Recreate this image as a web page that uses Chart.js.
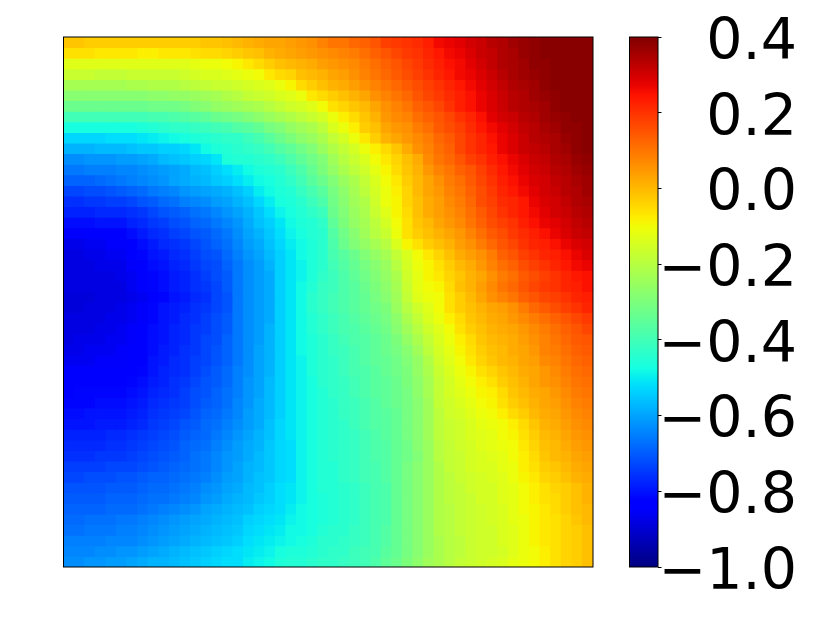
<!DOCTYPE html>
<html>
<head>
<meta charset="utf-8">
<style>
  html, body { margin: 0; padding: 0; background: #fff; }
  canvas { position: absolute; left: 0; top: 0; }
</style>
<script src="https://cdn.jsdelivr.net/npm/chart.js@4"></script>
</head>
<body>
<canvas id="heat" width="822" height="617"></canvas>
<canvas id="bar" width="822" height="617"></canvas>
<script>
// values, in hundredths, top row first
const heatRows = [
[-2,-2,-3,-3,-3,-3,-3,-3,-3,-3,-3,-3,-3,-2,-2,-1,0,1,2,3,3,4,5,6,8,10,10,12,13,15,18,19,20,21,23,26,27,28,30,31,33,34,36,37,38,39,39,39,39,39],
[-6,-6,-6,-7,-7,-7,-7,-8,-8,-7,-7,-7,-6,-5,-5,-4,-3,-2,-1,1,2,3,4,5,6,7,8,9,11,13,15,17,19,20,22,24,26,27,29,31,32,34,35,37,38,39,39,39,39,39],
[-13,-13,-13,-13,-13,-13,-13,-13,-13,-13,-13,-13,-12,-11,-11,-10,-9,-7,-5,-3,-1,0,1,2,4,5,6,7,9,11,13,15,17,19,21,23,25,26,28,30,32,34,35,36,38,38,39,39,39,39],
[-17,-17,-17,-18,-18,-18,-17,-17,-17,-17,-17,-16,-15,-14,-14,-13,-12,-11,-10,-7,-5,-4,-1,0,1,3,4,6,8,10,12,14,16,18,20,22,24,26,27,29,31,33,35,36,37,38,39,39,39,39],
[-23,-23,-23,-23,-23,-23,-22,-22,-21,-21,-21,-20,-19,-18,-17,-17,-16,-15,-14,-13,-11,-9,-5,-3,-1,1,2,4,6,8,10,12,14,16,18,20,22,24,26,28,30,32,34,35,36,38,39,39,39,39],
[-28,-28,-28,-28,-28,-28,-28,-28,-27,-27,-26,-26,-25,-24,-23,-21,-20,-18,-17,-16,-14,-13,-11,-7,-5,-3,-1,1,3,6,8,10,12,15,17,19,21,23,25,27,29,31,33,34,36,37,38,39,39,39],
[-33,-33,-33,-33,-33,-33,-33,-33,-32,-32,-32,-31,-29,-28,-26,-25,-24,-23,-22,-20,-18,-16,-15,-13,-10,-6,-4,-2,0,3,6,8,10,13,15,17,20,23,25,27,29,31,33,34,35,36,38,39,39,39],
[-40,-40,-40,-40,-40,-40,-40,-40,-39,-39,-38,-37,-36,-35,-33,-32,-31,-29,-27,-25,-23,-21,-19,-17,-15,-11,-8,-5,-2,1,5,7,8,11,13,15,17,20,22,25,28,30,31,33,34,36,37,38,39,39],
[-47,-47,-47,-47,-47,-47,-47,-46,-45,-44,-43,-43,-42,-41,-40,-39,-37,-36,-34,-31,-29,-26,-24,-22,-19,-14,-11,-8,-3,-1,3,5,6,9,11,14,16,18,21,24,26,28,30,32,33,35,36,38,38,39],
[-53,-53,-53,-53,-52,-52,-52,-51,-50,-49,-48,-47,-46,-45,-44,-43,-43,-41,-39,-36,-33,-30,-27,-25,-22,-18,-15,-11,-7,-3,1,3,5,7,9,12,14,17,20,22,25,27,29,31,33,34,35,37,38,39],
[-58,-58,-58,-57,-57,-57,-56,-55,-55,-54,-54,-53,-51,-48,-46,-45,-44,-43,-42,-40,-37,-35,-32,-29,-25,-21,-18,-15,-11,-8,-5,-2,2,6,8,11,13,17,20,22,24,27,29,31,32,33,35,36,38,39],
[-63,-63,-62,-62,-62,-61,-61,-60,-59,-57,-56,-55,-54,-53,-51,-46,-45,-45,-44,-43,-41,-38,-35,-32,-29,-24,-20,-17,-14,-10,-7,-4,-1,2,7,10,12,15,18,20,23,25,27,29,31,32,34,35,37,38],
[-66,-66,-65,-65,-65,-64,-64,-63,-62,-61,-60,-59,-57,-56,-54,-52,-50,-48,-46,-45,-44,-41,-38,-34,-30,-26,-22,-19,-16,-12,-9,-5,-2,1,5,8,10,13,15,18,21,24,26,28,30,31,33,34,36,37],
[-69,-69,-69,-68,-67,-66,-65,-64,-63,-62,-60,-59,-58,-57,-55,-54,-52,-50,-48,-47,-45,-43,-40,-36,-33,-29,-25,-22,-18,-14,-10,-7,-3,0,3,6,9,11,14,17,20,23,25,27,29,30,32,33,35,36],
[-73,-73,-72,-72,-71,-70,-69,-68,-66,-65,-64,-62,-61,-60,-59,-58,-56,-54,-50,-48,-46,-45,-42,-39,-36,-31,-27,-23,-19,-15,-11,-8,-4,0,3,5,8,10,13,16,19,22,24,26,28,30,31,33,34,36],
[-76,-76,-75,-75,-74,-74,-73,-71,-70,-68,-67,-65,-64,-63,-61,-60,-58,-56,-53,-50,-47,-46,-44,-41,-38,-32,-28,-24,-21,-16,-11,-9,-4,-1,2,4,7,9,12,16,18,21,22,24,27,29,30,32,34,35],
[-78,-78,-78,-77,-77,-77,-76,-75,-73,-71,-70,-69,-67,-66,-64,-62,-60,-58,-55,-52,-49,-47,-45,-43,-41,-33,-29,-25,-22,-17,-13,-9,-5,-1,2,4,6,8,11,14,17,20,22,24,26,28,30,31,33,34],
[-81,-81,-81,-80,-80,-80,-78,-77,-75,-74,-72,-71,-69,-68,-66,-64,-62,-59,-56,-54,-51,-48,-46,-45,-43,-35,-30,-26,-23,-19,-15,-10,-6,-2,0,3,5,7,10,13,16,18,20,23,25,27,28,30,32,33],
[-85,-85,-84,-84,-83,-83,-81,-79,-77,-76,-74,-73,-71,-70,-68,-66,-63,-60,-58,-55,-52,-49,-47,-45,-44,-37,-32,-28,-24,-20,-17,-11,-6,-3,-1,1,3,5,8,11,14,16,19,21,23,25,27,29,31,32],
[-87,-87,-86,-86,-85,-85,-83,-81,-79,-77,-76,-75,-73,-71,-69,-67,-64,-61,-59,-56,-53,-50,-48,-46,-44,-38,-33,-29,-26,-23,-20,-14,-9,-6,-3,-1,1,4,6,9,12,15,17,20,22,23,25,27,29,30],
[-88,-88,-87,-87,-86,-86,-84,-82,-80,-79,-77,-76,-74,-72,-71,-68,-65,-62,-60,-57,-54,-51,-48,-46,-44,-39,-36,-33,-29,-26,-23,-18,-14,-10,-7,-4,-1,2,4,6,9,13,15,18,20,22,23,25,27,29],
[-88,-88,-88,-87,-87,-87,-85,-83,-81,-80,-78,-77,-75,-73,-72,-69,-66,-63,-61,-58,-54,-51,-49,-46,-44,-40,-37,-34,-31,-28,-25,-20,-15,-11,-9,-6,-3,0,2,5,8,11,13,16,18,20,22,24,26,27],
[-88,-88,-88,-88,-88,-87,-86,-84,-82,-81,-79,-78,-76,-74,-72,-70,-66,-63,-61,-59,-54,-51,-49,-46,-43,-41,-38,-35,-32,-29,-26,-22,-16,-12,-9,-7,-4,-2,1,3,6,9,11,14,16,18,20,22,24,25],
[-88,-88,-88,-88,-88,-88,-86,-83,-82,-81,-79,-78,-76,-75,-73,-70,-66,-63,-61,-59,-54,-51,-48,-45,-42,-41,-38,-36,-33,-30,-27,-23,-17,-12,-10,-9,-5,-1,1,4,7,10,12,15,17,19,20,22,23,25],
[-89,-89,-89,-88,-88,-88,-87,-86,-84,-82,-80,-79,-77,-76,-73,-71,-66,-63,-61,-59,-54,-51,-48,-44,-42,-40,-38,-36,-34,-31,-28,-24,-18,-13,-11,-10,-6,-3,0,3,6,8,10,13,15,17,18,20,22,23],
[-89,-89,-88,-88,-88,-87,-86,-85,-82,-80,-79,-78,-76,-75,-73,-71,-66,-63,-61,-59,-54,-51,-48,-44,-42,-40,-38,-36,-34,-32,-30,-25,-20,-16,-13,-10,-6,-3,-1,1,3,4,6,9,12,14,16,18,20,22],
[-88,-88,-88,-88,-87,-87,-86,-85,-82,-80,-79,-77,-76,-74,-72,-70,-66,-63,-61,-59,-54,-51,-48,-45,-43,-41,-39,-37,-35,-33,-31,-27,-22,-18,-14,-11,-8,-5,-2,0,2,3,5,7,9,11,13,15,17,19],
[-88,-88,-88,-87,-87,-86,-85,-84,-81,-80,-78,-77,-75,-74,-72,-70,-66,-63,-61,-58,-54,-51,-48,-45,-43,-41,-39,-38,-36,-34,-32,-28,-24,-20,-16,-13,-10,-6,-3,-1,1,2,3,5,7,9,11,13,15,17],
[-88,-87,-87,-87,-86,-86,-85,-84,-81,-80,-78,-77,-75,-73,-72,-69,-66,-63,-61,-58,-54,-51,-48,-46,-44,-42,-40,-38,-37,-35,-33,-30,-26,-22,-18,-14,-11,-8,-5,-2,0,1,2,4,6,8,10,12,14,15],
[-87,-87,-86,-86,-86,-85,-84,-83,-81,-79,-78,-76,-75,-73,-71,-69,-66,-63,-60,-58,-54,-51,-48,-46,-44,-42,-41,-39,-37,-35,-33,-31,-28,-24,-19,-15,-12,-9,-6,-3,-1,0,2,3,5,8,9,11,13,14],
[-86,-86,-86,-85,-85,-85,-84,-83,-80,-79,-77,-76,-74,-73,-71,-69,-66,-63,-60,-58,-54,-51,-49,-46,-44,-43,-41,-39,-37,-35,-34,-32,-29,-26,-21,-16,-13,-10,-7,-4,-2,0,1,3,4,7,8,10,12,13],
[-84,-84,-84,-84,-84,-84,-83,-82,-80,-78,-77,-76,-74,-72,-70,-68,-65,-63,-60,-58,-54,-51,-49,-46,-44,-43,-41,-39,-38,-36,-34,-32,-30,-26,-22,-17,-14,-11,-9,-6,-4,-2,0,2,3,5,7,9,11,12],
[-83,-83,-83,-83,-83,-83,-82,-81,-79,-78,-76,-75,-73,-71,-70,-68,-65,-62,-60,-57,-54,-51,-49,-47,-44,-43,-42,-40,-38,-36,-35,-33,-30,-27,-23,-18,-15,-12,-10,-8,-6,-3,-1,1,3,5,6,8,10,11],
[-83,-82,-82,-82,-82,-82,-81,-80,-78,-77,-76,-74,-72,-71,-69,-67,-65,-62,-60,-57,-54,-51,-49,-47,-45,-43,-42,-40,-38,-36,-35,-33,-31,-27,-23,-18,-15,-13,-11,-9,-8,-5,-2,0,2,3,5,7,9,10],
[-82,-82,-82,-81,-81,-81,-80,-79,-77,-76,-75,-74,-72,-70,-69,-67,-64,-62,-59,-57,-54,-51,-49,-47,-45,-44,-42,-41,-39,-37,-35,-33,-31,-28,-24,-18,-16,-14,-12,-10,-9,-6,-3,-1,1,3,4,6,8,9],
[-81,-81,-80,-80,-80,-80,-79,-78,-76,-75,-74,-73,-71,-69,-68,-66,-64,-61,-59,-57,-54,-51,-49,-47,-45,-44,-42,-41,-39,-37,-36,-34,-31,-28,-24,-19,-16,-15,-13,-11,-10,-8,-5,-3,0,2,3,5,7,8],
[-80,-80,-80,-79,-79,-79,-78,-77,-75,-74,-73,-71,-70,-68,-67,-65,-63,-61,-59,-56,-53,-51,-49,-47,-45,-44,-43,-41,-39,-37,-36,-34,-31,-28,-24,-19,-17,-16,-14,-12,-11,-10,-8,-5,-2,1,2,4,6,7],
[-78,-78,-78,-78,-77,-77,-76,-75,-74,-73,-72,-70,-69,-68,-66,-64,-62,-60,-58,-56,-53,-51,-49,-47,-45,-44,-43,-42,-40,-38,-36,-34,-31,-28,-24,-19,-17,-16,-14,-13,-12,-10,-9,-6,-3,0,1,3,5,6],
[-77,-77,-77,-77,-76,-76,-75,-74,-73,-72,-71,-69,-68,-67,-65,-63,-61,-59,-58,-55,-53,-52,-49,-47,-45,-44,-43,-42,-40,-38,-37,-34,-32,-28,-25,-20,-18,-16,-15,-13,-12,-11,-10,-7,-4,-1,0,2,4,5],
[-76,-76,-76,-75,-75,-75,-74,-73,-72,-71,-70,-69,-67,-66,-64,-62,-61,-59,-57,-55,-53,-52,-49,-47,-45,-44,-43,-42,-40,-38,-37,-34,-32,-29,-25,-20,-18,-17,-15,-14,-13,-12,-10,-8,-5,-2,0,1,3,4],
[-74,-74,-74,-74,-73,-73,-73,-72,-71,-70,-69,-68,-67,-66,-64,-62,-60,-58,-57,-55,-53,-52,-49,-47,-45,-45,-43,-42,-40,-39,-37,-34,-31,-28,-25,-21,-18,-17,-15,-14,-14,-12,-11,-8,-6,-3,-2,0,2,3],
[-73,-73,-72,-72,-72,-71,-71,-70,-69,-69,-68,-67,-66,-65,-63,-61,-60,-58,-56,-55,-53,-52,-49,-47,-45,-45,-43,-42,-40,-39,-37,-34,-31,-28,-25,-21,-19,-17,-16,-15,-14,-13,-11,-9,-7,-4,-3,-1,1,2],
[-71,-71,-71,-71,-70,-70,-70,-69,-68,-68,-67,-66,-65,-63,-62,-60,-59,-57,-56,-54,-52,-51,-49,-47,-45,-45,-44,-43,-41,-39,-38,-34,-31,-28,-25,-21,-19,-18,-16,-15,-15,-13,-12,-10,-8,-6,-4,-3,-1,1],
[-70,-70,-70,-70,-69,-69,-69,-68,-67,-67,-66,-65,-64,-62,-61,-59,-58,-57,-55,-54,-52,-51,-49,-47,-46,-45,-44,-43,-41,-39,-38,-34,-31,-28,-25,-21,-19,-18,-17,-15,-15,-13,-12,-10,-8,-6,-5,-3,-1,1],
[-69,-69,-69,-69,-68,-68,-68,-67,-66,-65,-64,-63,-62,-60,-59,-58,-57,-56,-54,-53,-52,-50,-48,-47,-46,-45,-44,-43,-41,-39,-38,-34,-31,-28,-25,-21,-20,-18,-17,-16,-15,-14,-12,-10,-9,-7,-5,-3,-1,0],
[-68,-68,-67,-67,-67,-66,-66,-65,-64,-63,-62,-61,-60,-59,-58,-57,-56,-54,-53,-52,-51,-49,-48,-47,-46,-45,-44,-43,-41,-39,-38,-34,-31,-28,-25,-21,-20,-18,-17,-16,-15,-14,-12,-11,-9,-7,-6,-4,-2,0],
[-67,-67,-66,-66,-66,-65,-65,-64,-63,-62,-61,-60,-59,-58,-57,-56,-55,-53,-52,-51,-50,-48,-48,-47,-45,-44,-44,-42,-41,-39,-37,-34,-31,-28,-25,-21,-20,-18,-17,-16,-16,-14,-13,-11,-9,-7,-6,-4,-3,-1],
[-65,-65,-65,-65,-64,-64,-64,-63,-62,-61,-60,-59,-58,-57,-56,-55,-54,-52,-51,-50,-49,-48,-47,-46,-44,-44,-43,-42,-41,-39,-37,-34,-31,-28,-25,-22,-20,-19,-17,-16,-16,-14,-13,-11,-9,-7,-6,-4,-3,-1],
[-64,-64,-64,-63,-63,-62,-62,-61,-60,-59,-58,-57,-56,-55,-54,-53,-52,-51,-50,-49,-47,-46,-46,-45,-44,-43,-43,-41,-40,-39,-36,-34,-31,-28,-25,-22,-20,-19,-17,-16,-16,-15,-13,-11,-10,-8,-6,-4,-3,-1],
[-63,-63,-62,-62,-61,-61,-60,-59,-58,-58,-57,-56,-55,-54,-53,-52,-52,-50,-49,-48,-46,-45,-45,-44,-43,-43,-42,-41,-40,-38,-35,-33,-30,-27,-24,-22,-20,-18,-17,-16,-15,-14,-12,-11,-10,-8,-6,-4,-3,-1]
];
const barRange = [-1, 0.4];
const barTicks = [-1, -0.8, -0.6, -0.4, -0.2, 0, 0.2, 0.4];

const jetRed = [[0, 0], [0.35, 0], [0.66, 1], [0.89, 1], [1, 0.5]];
const jetGreen = [[0, 0], [0.125, 0], [0.375, 1], [0.64, 1], [0.91, 0], [1, 0]];
const jetBlue = [[0, 0.5], [0.11, 1], [0.34, 1], [0.65, 0], [1, 0]];

function channel(stops, t) {
    for (let i = 1; i < stops.length; i++) {
        if (t <= stops[i][0]) {
            const a = stops[i - 1], b = stops[i];
            return a[1] + (b[1] - a[1]) * (t - a[0]) / (b[0] - a[0]);
        }
    }
    return stops[stops.length - 1][1];
}

function jet(v) {
    const t = Math.min(1, Math.max(0, (v - barRange[0]) / (barRange[1] - barRange[0])));
    const r = Math.round(channel(jetRed, t) * 255);
    const g = Math.round(channel(jetGreen, t) * 255);
    const b = Math.round(channel(jetBlue, t) * 255);
    return `rgb(${r},${g},${b})`;
}

// black box around the plot area
const frame = {
    id: 'frame',
    afterDraw(chart) {
        const { ctx, chartArea: a } = chart;
        ctx.save();
        ctx.strokeStyle = '#000';
        ctx.lineWidth = 1;
        ctx.strokeRect(a.left, a.top, a.right - a.left, a.bottom - a.top);
        ctx.restore();
    }
};

new Chart(document.getElementById('heat').getContext('2d'), {
    type: 'bar',
    data: {
        labels: heatRows[0].map((_, i) => i),
        datasets: heatRows.map(row => ({
            data: row.map(() => 1),
            backgroundColor: row.map(v => jet(v / 100)),
            barPercentage: 1,
            categoryPercentage: 1,
            inflateAmount: 0.5
        }))
    },
    options: {
        responsive: false,
        animation: false,
        layout: { padding: { left: 63.5, top: 37, right: 229, bottom: 50 } },
        plugins: { legend: { display: false }, tooltip: { enabled: false } },
        scales: {
            x: { display: false, stacked: true },
            y: { display: false, stacked: true, reverse: true, min: 0, max: heatRows.length }
        }
    },
    plugins: [frame]
});

new Chart(document.getElementById('bar').getContext('2d'), {
    type: 'bar',
    data: {
        labels: [''],
        datasets: [{
            data: [barRange],
            barPercentage: 1,
            categoryPercentage: 1,
            backgroundColor(context) {
                const a = context.chart.chartArea;
                if (!a) return '#000';
                const grad = context.chart.ctx.createLinearGradient(0, a.bottom, 0, a.top);
                for (let i = 0; i <= 64; i++) {
                    grad.addColorStop(i / 64, jet(barRange[0] + (barRange[1] - barRange[0]) * i / 64));
                }
                return grad;
            }
        }]
    },
    options: {
        responsive: false,
        animation: false,
        layout: { padding: { left: 629.5, top: 37, right: 25, bottom: 50 } },
        plugins: { legend: { display: false }, tooltip: { enabled: false } },
        scales: {
            x: { display: false },
            y: {
                position: 'right',
                min: barRange[0],
                max: barRange[1],
                afterFit(scale) { scale.width = 139; },
                afterBuildTicks(scale) { scale.ticks = barTicks.map(value => ({ value })); },
                border: { display: false },
                grid: { drawOnChartArea: false, color: '#000', tickLength: 3.5, lineWidth: 1 },
                ticks: {
                    autoSkip: false,
                    crossAlign: 'far',
                    padding: 0,
                    labelOffset: 7,
                    color: '#000',
                    font: { family: 'DejaVu Sans', size: 57 },
                    callback: value => value.toFixed(1).replace('-', '\u2212')
                }
            }
        }
    },
    plugins: [frame]
});
</script>
</body>
</html>
